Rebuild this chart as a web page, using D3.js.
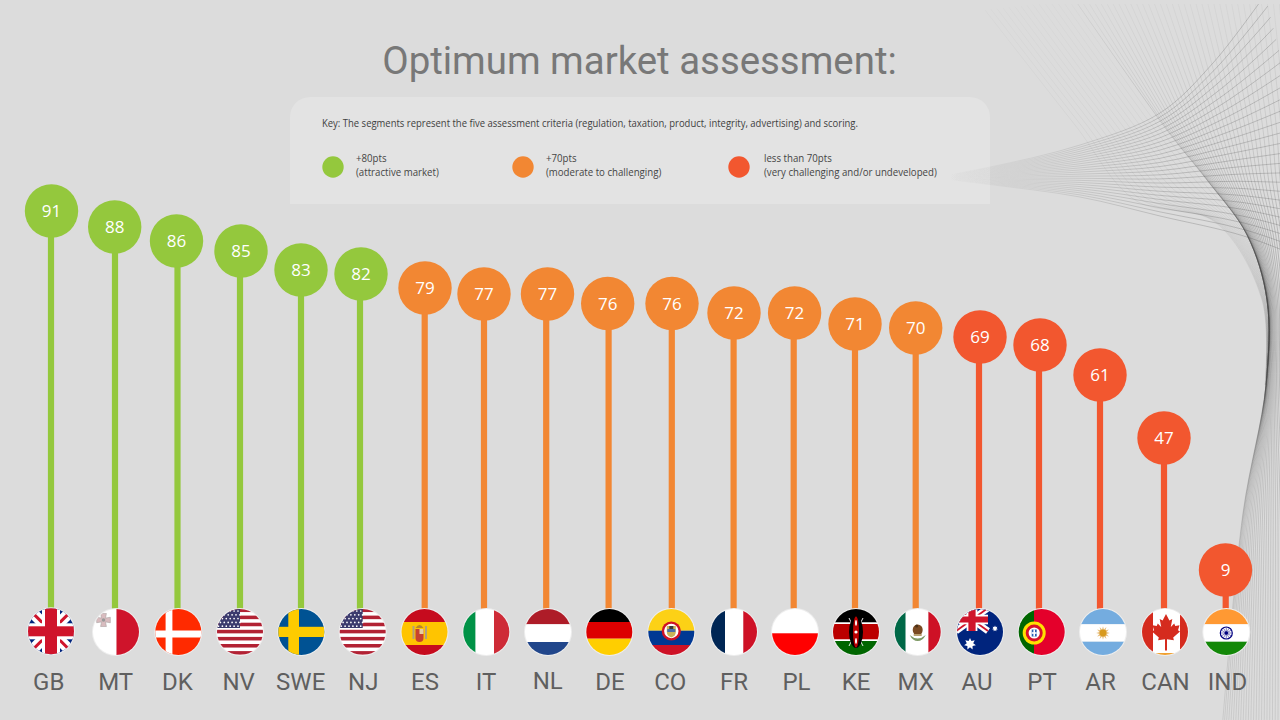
<!DOCTYPE html>
<html>
<head>
<meta charset="utf-8">
<script src="https://cdn.jsdelivr.net/npm/d3@7"></script>
<style>
html,body{margin:0;padding:0;background:#dcdcdc;overflow:hidden}
svg{display:block}
</style>
</head>
<body>
<svg id="chart" width="1280" height="720"></svg>
<script>
const titleText = "Optimum market assessment:";
const keyText = "Key: The segments represent the five assessment criteria (regulation, taxation, product, integrity, advertising) and scoring.";
const legendTop = ["+80pts", "+70pts", "less than 70pts"];
const legendBottom = ["(attractive market)", "(moderate to challenging)", "(very challenging and/or undeveloped)"];
const categories = ["GB","MT","DK","NV","SWE","NJ","ES","IT","NL","DE","CO","FR","PL","KE","MX","AU","PT","AR","CAN","IND"];
const scores = [91,88,86,85,83,82,79,77,77,76,76,72,72,71,70,69,68,61,47,9];

const GREEN = "#94c83d", ORANGE = "#f28733", RED = "#f2572f";

// the picture's value axis is not uniform, so the y scale is piecewise
const y = d3.scaleLinear()
  .domain([9,47,61,68,69,70,71,72,76,77,79,82,83,85,86,88,91])
  .range([570,438,375,345,337,328,324,313,303.5,294,288,274,270,251,241,227,211]);
const markX = d3.scaleOrdinal(categories,
  [51.5,114.7,176.5,241,301,361,425,484,547.5,607.7,672,734,794.6,855,915.7,980,1040,1100,1164,1225.5]);
const stemX = d3.scaleOrdinal(categories,
  [51,115,177.5,240,301,360,424.7,484,546.2,608.6,671.8,733.6,793.7,855,915.7,979,1039,1100,1164,1225.7]);
const flagX = d3.scaleOrdinal(categories,
  [51,116,178.3,240,301.3,362.7,424.5,486.3,548,609.3,671.3,734,795,856,917.7,980,1041.7,1103,1165,1226.3]);
const labelX = d3.scaleOrdinal(categories,
  [48.7,115.7,177.3,238.7,300.7,363.3,425,486,547.7,610,670.3,734,796.5,856,915.7,977,1042,1100.5,1165.5,1227.5]);
const tier = d3.scaleThreshold([70,80],[RED,ORANGE,GREEN]);
const legendScale = d3.scaleOrdinal([0,1,2],[333,523,739]);
const legendTextScale = d3.scaleOrdinal([0,1,2],[356,546,764]);

const svg = d3.select("#chart");
const defs = svg.append("defs");
svg.append("rect").attr("width",1280).attr("height",720).attr("fill","#dcdcdc");

/* ---------- decorative string-art mesh ---------- */
const meshClip = defs.append("clipPath").attr("id","meshClip");
meshClip.append("rect").attr("x",880).attr("y",4).attr("width",400).attr("height",716);

function gradient(id, attrs, stops){
  const g = defs.append("linearGradient").attr("id",id).attr("gradientUnits","userSpaceOnUse")
    .attr("x1",attrs[0]).attr("y1",attrs[1]).attr("x2",attrs[2]).attr("y2",attrs[3]);
  stops.forEach(s=>g.append("stop").attr("offset",s[0]).attr("stop-color","#444").attr("stop-opacity",s[1]));
  return `url(#${id})`;
}
const gradA = gradient("gA",[880,0,1280,0],[[0,0],[0.17,0],[0.27,.05],[0.5,.2],[.75,.34],[1,.34]]);
const gradB = gradient("gB",[0,0,0,720],[[0,.07],[.18,.2],[.33,.42],[.5,.42],[.58,.32],[.75,.27],[1,.2]]);
const gradC = gradient("gC",[0,0,0,720],[[0,.04],[.2,.09],[.3,.12],[.5,.1],[.56,0],[1,0]]);

const familyA = [[[880,186],[985,168],[1080,145],[1160,113],[1213,63],[1265,-5]],
                 [[880,172],[985,184],[1080,197],[1160,216],[1247,237],[1335,272]]];
const familyB = [[[1075,0],[1167,130],[1207,180],[1247,235],[1267,300],[1266,385],[1243,513],[1222,730]],
                 [[1345,0],[1345,130],[1345,180],[1345,235],[1345,300],[1345,385],[1345,513],[1345,730]]];
const spreadB = [1,1.3,1.7,2.4,3.2,3,1.5,1.1];
const familyC = [[[985,10],[1075,125],[1135,200],[1215,222],[1262,300],[1265,385]],
                 [[1075,0],[1167,130],[1207,180],[1247,235],[1267,300],[1266,385]]];
const meshLine = d3.line().curve(d3.curveCatmullRom.alpha(.5));
function blend(family,n,spread){
  return d3.range(n).map(i=>{
    const t = i/(n-1);
    return meshLine(family[0].map((p,k)=>{
      const u = spread ? Math.pow(t,spread[k]) : t;
      return [p[0]+(family[1][k][0]-p[0])*u, p[1]+(family[1][k][1]-p[1])*u];
    }));
  });
}
const mesh = svg.append("g").attr("clip-path","url(#meshClip)").attr("fill","none");
mesh.selectAll("path.c").data(blend(familyC,16)).join("path").attr("class","c").attr("d",d=>d).attr("stroke",gradC).attr("stroke-width",.6);
mesh.selectAll("path.b").data(blend(familyB,46,spreadB)).join("path").attr("class","b").attr("d",d=>d).attr("stroke",gradB).attr("stroke-width",.6);
mesh.selectAll("path.a").data(blend(familyA,26)).join("path").attr("class","a").attr("d",d=>d).attr("stroke",gradA).attr("stroke-width",.7);

/* ---------- title + key panel ---------- */
svg.append("text").text(titleText).attr("x",639.5).attr("y",73.5).attr("text-anchor","middle")
  .attr("font-family","Roboto").attr("font-size",38.4).attr("fill","#787878");

const panelPath = d3.path();
panelPath.moveTo(290,204); panelPath.lineTo(290,117); panelPath.arcTo(290,97,310,97,20);
panelPath.lineTo(970,97); panelPath.arcTo(990,97,990,117,20); panelPath.lineTo(990,204); panelPath.closePath();
svg.append("path").attr("d",panelPath.toString()).attr("fill","#fff").attr("opacity",.2);

const keyFont = "'Open Sans'";
const condense = .93;
function condensed(sel){
  sel.each(function(){ this.setAttribute("textLength", this.getComputedTextLength()*condense); })
     .attr("lengthAdjust","spacingAndGlyphs");
}
svg.append("text").text(keyText).attr("x",322).attr("y",127).attr("font-family",keyFont)
  .attr("font-size",10.8).attr("fill","#3f3f3f").attr("textLength",536).attr("lengthAdjust","spacingAndGlyphs");
const legendG = svg.selectAll("g.legend").data([0,1,2]).join("g").attr("class","legend");
legendG.append("circle").attr("cx",d=>legendScale(d)).attr("cy",167).attr("r",10.7)
  .attr("fill",d=>[GREEN,ORANGE,RED][d]);
legendG.append("text").text(d=>legendTop[d]).attr("x",d=>legendTextScale(d)).attr("y",161.5)
  .attr("font-family",keyFont).attr("font-size",10.4).attr("fill","#454545").call(condensed);
legendG.append("text").text(d=>legendBottom[d]).attr("x",d=>legendTextScale(d)).attr("y",176)
  .attr("font-family",keyFont).attr("font-size",10.4).attr("fill","#454545").call(condensed);

/* ---------- flags, drawn in a local ±24 box ---------- */
function R(g,x,y,w,h,c){return g.append("rect").attr("x",x).attr("y",y).attr("width",w).attr("height",h).attr("fill",c);}
function C(g,x,y,r,c,s,sw){return g.append("circle").attr("cx",x).attr("cy",y).attr("r",r).attr("fill",c||"none").attr("stroke",s||"none").attr("stroke-width",sw||0);}
function hBands(g,bands){let a=-24;bands.forEach(b=>{R(g,-24,a,48,b[0]-a,b[1]);a=b[0];});}
function vBands(g,bands){let a=-24;bands.forEach(b=>{R(g,a,-24,b[0]-a,48,b[1]);a=b[0];});}
function L(g,x1,y1,x2,y2,c,w){return g.append("line").attr("x1",x1).attr("y1",y1).attr("x2",x2).attr("y2",y2).attr("stroke",c).attr("stroke-width",w);}
function jack(g,x0,y0,w,h,k){
  R(g,x0,y0,w,h,"#00247d");
  L(g,x0,y0,x0+w,y0+h,"#fff",11*k);L(g,x0+w,y0,x0,y0+h,"#fff",11*k);
  L(g,x0,y0,x0+w,y0+h,"#cf142b",3*k);L(g,x0+w,y0,x0,y0+h,"#cf142b",3*k);
  R(g,x0+w/2-9*k,y0,18*k,h,"#fff");R(g,x0,y0+h/2-8*k,w,16*k,"#fff");
  R(g,x0+w/2-6*k,y0,12*k,h,"#cf142b");R(g,x0,y0+h/2-5*k,w,10*k,"#cf142b");
}
function usa(g){
  R(g,-24,-24,48,48,"#fff");
  d3.range(-23.5,24,7.1).forEach(a=>R(g,-24,a,48,3.55,"#b22234"));
  R(g,-24,-24,24,20,"#3c3b6e");
  d3.range(5).forEach(r=>d3.range(6).forEach(c=>C(g,-21.5+c*3.9+(r%2?1.9:0),-21+r*3.8,.85,"#fff")));
}
function starburst(g,x,y,r,c,n){
  const m = n||14;
  g.append("path").attr("d",d3.lineRadial().curve(d3.curveLinearClosed)
    .angle((d,i)=>i*2*Math.PI/m).radius((d,i)=>i%2?r*.55:r)(d3.range(m)))
    .attr("transform",`translate(${x},${y})`).attr("fill",c);
}
const flags = {
  GB:g=>jack(g,-24,-24,48,48,1),
  MT:g=>{R(g,-24,-24,24.5,48,"#fff");R(g,.5,-24,24,48,"#cf142b");
    g.append("path").attr("transform","translate(-12.5,-12) scale(1.45)")
      .attr("d","M-2-4.5h4l-.6 3.2 3.3-.6v3.8l-3.3-.6.6 3.2h-4l.6-3.2-3.3.6v-3.8l3.3.6z")
      .attr("fill","#d9bcbf").attr("stroke","#a8a0a0").attr("stroke-width",.4);
    C(g,-12.5,-12,1.8,"#9a9a9a");},
  DK:g=>{R(g,-24,-24,48,48,"#ff2a00");R(g,-12.7,-24,6.8,48,"#fff");R(g,-24,-1.5,48,7,"#fff");},
  NV:usa, NJ:usa,
  SWE:g=>{R(g,-24,-24,48,48,"#005293");R(g,-13,-24,10.7,48,"#fecb00");R(g,-24,-5.2,48,10.2,"#fecb00");},
  ES:g=>{hBands(g,[[-10,"#c60b1e"],[13,"#ffc400"],[24,"#c60b1e"]]);
    R(g,-12,-6,2,13,"#b0a080");R(g,.5,-6,2,13,"#b0a080");
    g.append("path").attr("d","M-9-3h8v9a4 4 0 0 1-8 0z").attr("fill","#c8412e");
    R(g,-5,-3,4,5,"#e6cfa0");
    g.append("path").attr("d","M-9-4q4-6 8 0z").attr("fill","#b8862a");},
  IT:g=>vBands(g,[[-10.7,"#009246"],[7.7,"#fff"],[24,"#ce2b37"]]),
  NL:g=>hBands(g,[[-7.7,"#ae1c28"],[10,"#fff"],[24,"#21468b"]]),
  DE:g=>hBands(g,[[-10,"#000"],[6.7,"#dd0000"],[24,"#ffce00"]]),
  CO:g=>{hBands(g,[[-1.3,"#fcd116"],[13,"#003893"],[24,"#ce1126"]]);
    C(g,0,-1,9.6,"#ce1126");C(g,0,-1,7.2,"#fff");
    g.append("path").attr("d","M-4.5-6h9v6q0 4-4.5 5.5q-4.5-1.5-4.5-5.5z").attr("fill","#c9b458");
    R(g,-4,-3,8,3,"#4a6da8");R(g,-2,-6,4,3,"#3a3a3a");},
  FR:g=>vBands(g,[[-9,"#002654"],[9.3,"#fff"],[24,"#ce1126"]]),
  PL:g=>hBands(g,[[1.3,"#fff"],[24,"#ff0000"]]),
  KE:g=>{hBands(g,[[-9.5,"#000"],[-8,"#fff"],[7.5,"#bb0000"],[9,"#fff"],[24,"#006600"]]);
    L(g,-7,-14,7,14,"#fff",.9);L(g,7,-14,-7,14,"#fff",.9);
    g.append("ellipse").attr("rx",7).attr("ry",16).attr("fill","#000");
    g.append("ellipse").attr("rx",3).attr("ry",15.5).attr("fill","#bb0000");
    g.append("ellipse").attr("cy",-9).attr("rx",1).attr("ry",3).attr("fill","#fff");
    g.append("ellipse").attr("cy",9).attr("rx",1).attr("ry",3).attr("fill","#fff");
    C(g,0,0,1.6,"#fff");},
  MX:g=>{vBands(g,[[-12,"#006847"],[10.7,"#fff"],[24,"#ce1126"]]);
    g.append("ellipse").attr("cx",0).attr("cy",-2).attr("rx",5).attr("ry",5.5).attr("fill","#7a4a22");
    g.append("path").attr("d","M-8 3q8 7 16 0q-3 6-8 6t-8-6z").attr("fill","#7f9a66");
    C(g,-1,-6,1.5,"#4a3015");R(g,-4,2,8,2,"#b9a070");},
  AU:g=>{R(g,-24,-24,48,48,"#00247d");
    g.append("g").call(s=>jack(s,-24,-24,32,23,.6));
    starburst(g,-10,12,6,"#fff");starburst(g,15,-3.5,3,"#fff");},
  PT:g=>{vBands(g,[[-7.7,"#006600"],[24,"#e4002b"]]);
    C(g,-7.5,1,11.5,"#ffe000");C(g,-7.5,1,8.5,"#d8102a");C(g,-7.5,1,5.6,"#fff");
    R(g,-10,-2.5,5,7,"#2a5fb0");R(g,-8.3,-2.5,1.6,7,"#fff");R(g,-10,.2,5,1.6,"#fff");},
  AR:g=>{hBands(g,[[-7.7,"#74acdf"],[9.7,"#fff"],[24,"#74acdf"]]);
    starburst(g,0,1,6.8,"#e8c080",24);C(g,0,1,3.4,"#d89a1e");},
  CAN:g=>{vBands(g,[[-12,"#d52b1e"],[15,"#fff"],[24,"#d52b1e"]]);
    R(g,-15,21,30,3,"#f0a030");R(g,-12,-24,27,44.8,"#fff");
    g.append("path").attr("transform","translate(1,0)")
      .attr("d","M0-18L3.4-11.5 6.3-13 4.8-5 8.2-8.6 9.3-6 13.5-6.8 12-1.8 14-.6 7.2 5.6 7.9 8.2 1 7.2 1 18.5-1 18.5-1 7.2-7.9 8.2-7.2 5.6-14-.6-12-1.8-13.5-6.8-9.3-6-8.2-8.6-4.8-5-6.3-13-3.4-11.5Z")
      .attr("fill","#d52b1e");},
  IND:g=>{hBands(g,[[-7.7,"#ff9933"],[9.7,"#fff"],[24,"#138808"]]);
    C(g,0,1,6,"#fff","#000080",1.2);C(g,0,1,1.8,"#000080");
    d3.range(12).forEach(i=>L(g,0,1,5.5*Math.cos(i*Math.PI/6),1+5.5*Math.sin(i*Math.PI/6),"#000080",.5));}
};

/* ---------- lollipops ---------- */
const data = categories.map((c,i)=>({c,v:scores[i]}));
const flagY = 632, flagR = 23;

svg.append("g").selectAll("line").data(data).join("line")
  .attr("x1",d=>stemX(d.c)).attr("x2",d=>stemX(d.c))
  .attr("y1",d=>y(d.v)).attr("y2",flagY-flagR+2)
  .attr("stroke",d=>tier(d.v)).attr("stroke-width",6.2);

svg.append("g").selectAll("circle").data(data).join("circle")
  .attr("cx",d=>markX(d.c)).attr("cy",d=>y(d.v)).attr("r",26.7)
  .attr("fill",d=>tier(d.v));

svg.append("g").selectAll("text").data(data).join("text")
  .text(d=>d.v).attr("x",d=>markX(d.c)).attr("y",d=>y(d.v)+6)
  .attr("text-anchor","middle").attr("font-family","'Open Sans'").attr("font-size",17).attr("fill","#fff");

const flagGs = svg.append("g").selectAll("g").data(data).join("g")
  .attr("transform",d=>`translate(${flagX(d.c)},${d.c==="GB"?flagY-.7:flagY})`);
flagGs.each(function(d,i){
  const id = "fc"+i;
  defs.append("clipPath").attr("id",id).append("circle").attr("r",flagR);
  const host = d3.select(this);
  C(host,0,0,flagR+1,"#eee");
  const inner = host.append("g").attr("clip-path",`url(#${id})`);
  flags[d.c](inner);
});

svg.append("g").selectAll("text").data(data).join("text")
  .text(d=>d.c).attr("x",d=>labelX(d.c)).attr("y",d=>d.c==="NL"?688.5:690)
  .attr("text-anchor","middle").attr("font-family","Roboto").attr("font-size",24).attr("fill","#5f5f5f");
</script>
</body>
</html>
